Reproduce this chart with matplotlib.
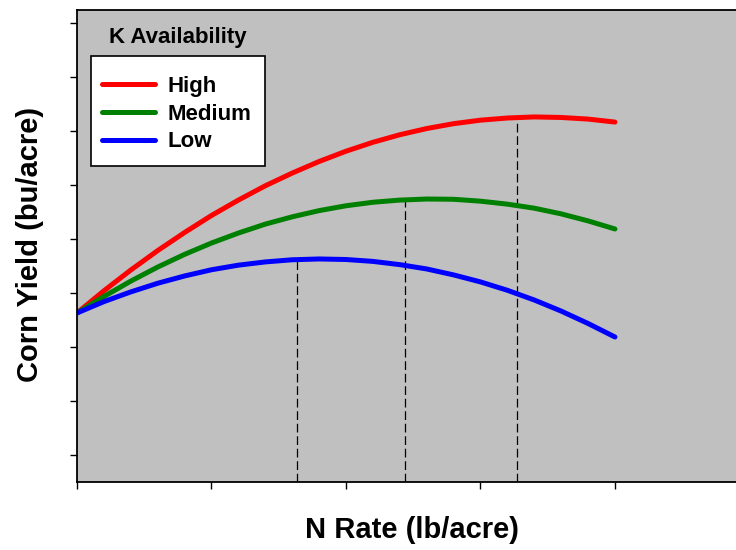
import matplotlib
matplotlib.use('Agg')
import matplotlib.pyplot as plt
from matplotlib.patches import Rectangle

plt.rcParams['font.family'] = ['Liberation Sans', 'DejaVu Sans']
plt.rcParams['font.weight'] = 'bold'

# N rate (lb/acre) and yield (bu/acre)
n_rate = [0, 10, 20, 30, 40, 50, 60, 70, 80, 90, 100,
          110, 120, 130, 140, 150, 160, 170, 180, 190, 200]
high = [152.6, 160.8, 168.5, 175.7, 182.4, 188.7, 194.4, 199.7, 204.4, 208.7, 212.5,
        215.8, 218.6, 220.9, 222.7, 224.0, 224.8, 225.2, 225.0, 224.4, 223.3]
medium = [152.6, 158.7, 164.4, 169.6, 174.3, 178.5, 182.2, 185.5, 188.2, 190.5, 192.3,
          193.6, 194.4, 194.8, 194.7, 194.0, 192.9, 191.4, 189.3, 186.7, 183.7]
low = [152.6, 156.8, 160.4, 163.6, 166.3, 168.6, 170.3, 171.5, 172.3, 172.6, 172.4,
       171.7, 170.5, 168.9, 166.7, 164.1, 161.0, 157.4, 153.3, 148.7, 143.7]

# optimum N rate for each curve and yield there
opt_n = [81.8, 121.9, 163.6]
opt_y = [172.3, 194.5, 225.0]

fig = plt.figure(figsize=(7.36, 5.5), dpi=100)
ax = fig.add_axes([77 / 736, 68 / 550, 659 / 736, 472 / 550])
ax.set_facecolor('#C0C0C0')

ax.plot(n_rate, high, color='#FF0000', lw=3.6, label='High', solid_capstyle='round')
ax.plot(n_rate, medium, color='#008000', lw=3.6, label='Medium', solid_capstyle='round')
ax.plot(n_rate, low, color='#0000FF', lw=3.6, label='Low', solid_capstyle='round')

for xn, yn in zip(opt_n, opt_y):
    ax.plot([xn, xn], [90, yn], color='black', lw=0.9, dashes=(7, 3), zorder=1)

ax.set_xlim(0, 245)
ax.set_ylim(90, 264.8)
ax.set_xticks([0, 50, 100, 150, 200])
ax.set_yticks([100, 120, 140, 160, 180, 200, 220, 240, 260])
ax.set_xticklabels([])
ax.set_yticklabels([])
ax.tick_params(direction='out', length=5, width=1)
for s in ax.spines.values():
    s.set_linewidth(1.3)
ax.spines['right'].set_visible(False)

ax.set_xlabel('N Rate (lb/acre)', fontsize=21, fontweight='bold', va='center')
ax.xaxis.set_label_coords(335 / 659, -48 / 472)
ax.set_ylabel('Corn Yield (bu/acre)', fontsize=21, fontweight='bold', va='center')
ax.yaxis.set_label_coords(-47 / 659, 238 / 472)

fig.text(178 / 736, 1 - 37 / 550, 'K Availability', fontsize=16, fontweight='bold',
         ha='center', va='center')

# legend box drawn by hand so its size matches the picture
ax.add_patch(Rectangle((14 / 659, 316 / 472), 174 / 659, 110 / 472, transform=ax.transAxes,
                       facecolor='white', edgecolor='black', lw=1.2, zorder=4))
leg = ax.legend(loc='upper left', bbox_to_anchor=(14 / 659, 417 / 472), borderaxespad=0,
                fontsize=16, handlelength=2.4, handletextpad=0.55, frameon=False,
                labelspacing=0.3, borderpad=0.5)
leg.set_zorder(5)
for t in leg.get_texts():
    t.set_fontweight('bold')

fig.savefig('out.png', dpi=100)
